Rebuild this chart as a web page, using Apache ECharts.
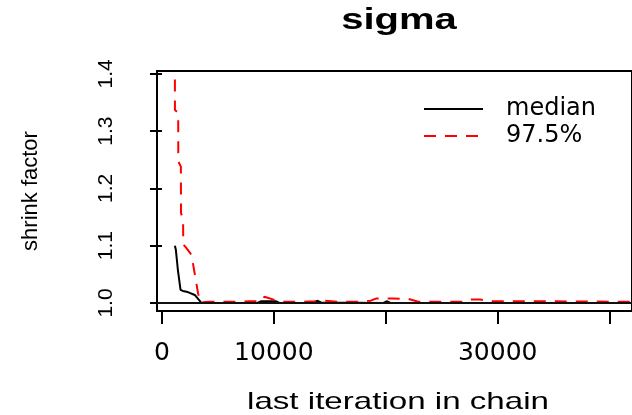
<!DOCTYPE html>
<html>
<head>
<meta charset="utf-8">
<script src="https://cdn.jsdelivr.net/npm/echarts@6/dist/echarts.min.js"></script>
<style>
  html, body { margin: 0; padding: 0; background: #fff; }
  #chart { width: 632px; height: 415px; }
</style>
</head>
<body>
<div id="chart"></div>
<script>
// Gelman-Rubin shrink factor for sigma against the last iteration in the chain
const plotTitle = 'sigma';
const xName = 'last iteration in chain';
const yName = 'shrink factor';
const seriesNames = ['median', '97.5%'];

const iterMedian = [1155, 1240, 1420, 1500, 1660, 1865, 2310, 2930, 3525, 8520, 8880, 10210, 10480, 13590, 13860, 14210, 19800, 20070, 20420, 42000];
const shrinkMedian = [1.100, 1.093, 1.058, 1.055, 1.023, 1.021, 1.019, 1.014, 1.000, 1.000, 1.003, 1.003, 1.000, 1.000, 1.004, 1.001, 1.000, 1.003, 1.000, 1.000];

const iterUpper = [1155, 1160, 1450, 1460, 1690, 1700, 1890, 1900, 2100, 2640, 3225, 3440, 4260, 6040, 7810, 8880, 9150, 10120, 10740, 12250, 13590, 14470, 15800, 17580, 18650, 19180, 20690, 22020, 22910, 24690, 26910, 27530, 28420, 29570, 34450, 42000];
const shrinkUpper = [1.390, 1.337, 1.332, 1.247, 1.238, 1.157, 1.145, 1.102, 1.098, 1.084, 1.017, 1.001, 1.002, 1.002, 1.003, 1.003, 1.011, 1.005, 1.002, 1.002, 1.003, 1.004, 1.002, 1.002, 1.004, 1.008, 1.008, 1.007, 1.002, 1.002, 1.002, 1.006, 1.006, 1.003, 1.003, 1.002];

const xTicks = [0, 10000, 20000, 30000, 40000];
const xTickLabels = [0, 10000, 30000];
const yTicks = [1.0, 1.1, 1.2, 1.3, 1.4];

const pairs = (xs, ys) => xs.map((x, i) => [x, ys[i]]);

const chart = echarts.init(document.getElementById('chart'), null, { renderer: 'canvas' });

chart.setOption({
  animation: false,
  backgroundColor: '#ffffff',
  grid: {
    left: 157, top: 71, bottom: 104, right: -3,
    show: true, borderColor: '#000', borderWidth: 2, backgroundColor: 'transparent'
  },
  graphic: [
    {
      type: 'text', x: 399, y: 21, scaleX: 1.38,
      style: { text: plotTitle, font: 'bold 29px "Liberation Sans", Arial, sans-serif', fill: '#000', textAlign: 'center', textVerticalAlign: 'middle' }
    },
    {
      type: 'text', x: 398, y: 402, scaleX: 1.38,
      style: { text: xName, font: '24px "Liberation Sans", Arial, sans-serif', fill: '#000', textAlign: 'center', textVerticalAlign: 'middle' }
    }
  ],
  legend: {
    orient: 'vertical',
    left: 418, top: 92,
    itemWidth: 59, itemHeight: 14, itemGap: 3,
    itemStyle: { opacity: 0 },
    textStyle: { fontFamily: '"DejaVu Sans", sans-serif', fontSize: 24, color: '#000', lineHeight: 24, padding: [0, 0, 0, 18] },
    data: seriesNames
  },
  xAxis: {
    type: 'value', min: -444, max: 42000,
    axisLine: { show: false },
    splitLine: { show: false },
    axisTick: { show: true, customValues: xTicks, length: 13, lineStyle: { color: '#000', width: 2 } },
    axisLabel: {
      customValues: xTickLabels, margin: 30,
      fontFamily: '"DejaVu Sans", sans-serif', fontSize: 25, color: '#000',
      formatter: v => String(v)
    }
  },
  yAxis: {
    type: 'value', min: 0.986, max: 1.405,
    name: yName, nameLocation: 'middle', nameRotate: 90, nameGap: 115,
    nameTextStyle: { fontFamily: '"Liberation Sans", Arial, sans-serif', fontSize: 22, color: '#000' },
    axisLine: { show: false },
    splitLine: { show: false },
    axisTick: { show: true, customValues: yTicks, length: 12, lineStyle: { color: '#000', width: 2 } },
    axisLabel: {
      customValues: yTicks, rotate: 90, margin: 40,
      fontFamily: '"Liberation Sans", Arial, sans-serif', fontSize: 21, color: '#000',
      formatter: v => v.toFixed(1)
    }
  },
  series: [
    {
      name: seriesNames[0], type: 'line', symbol: 'none', z: 3,
      lineStyle: { color: '#000', width: 2, type: 'solid' },
      itemStyle: { color: '#000' },
      data: pairs(iterMedian, shrinkMedian),
      markLine: {
        silent: true, symbol: 'none', label: { show: false },
        lineStyle: { color: '#111', width: 2, type: 'solid' },
        data: [{ yAxis: 1 }]
      }
    },
    {
      name: seriesNames[1], type: 'line', symbol: 'none', z: 4,
      lineStyle: { color: '#ff0000', width: 2, type: [12, 9] },
      itemStyle: { color: '#ff0000' },
      data: pairs(iterUpper, shrinkUpper)
    }
  ]
});
</script>
</body>
</html>
